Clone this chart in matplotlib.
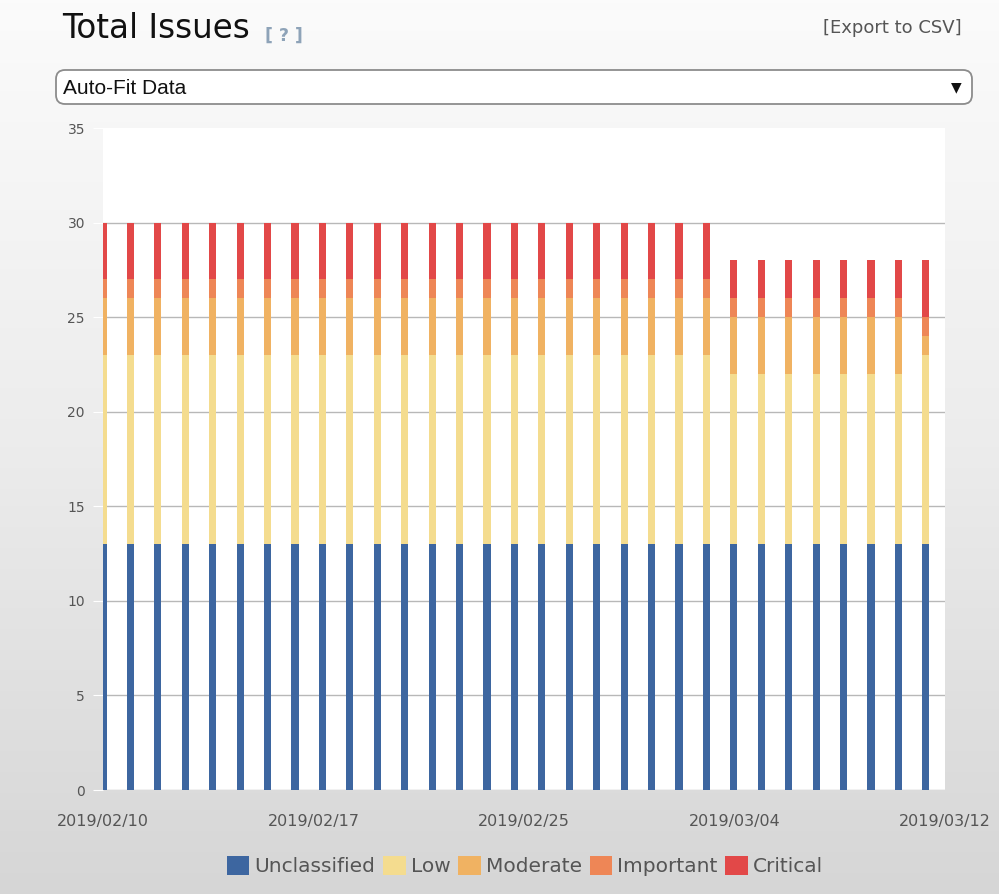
import numpy as np
import pandas as pd
import matplotlib
matplotlib.use('Agg')
import matplotlib.pyplot as plt
from matplotlib.patches import FancyBboxPatch

# 数据：每天各等级的问题数
dates = pd.date_range('2019-02-10', '2019-03-12', freq='D')
unclassified = [13] * 31
low = [10] * 23 + [9] * 7 + [10]
moderate = [3] * 23 + [3] * 7 + [1]
important = [1] * 31
critical = [3] * 23 + [2] * 7 + [3]

series_names = ['Unclassified', 'Low', 'Moderate', 'Important', 'Critical']
series_colors = ['#3d66a0', '#f4dc8f', '#f0b262', '#ee8656', '#e24848']
x_tick_labels = ['2019/02/10', '2019/02/17', '2019/02/25', '2019/03/04', '2019/03/12']
y_ticks = [0, 5, 10, 15, 20, 25, 30, 35]

W, H = 999, 894
fig = plt.figure(figsize=(W / 100, H / 100), dpi=100)

# 背景渐变 + 页面装饰（像素坐标）
bg = fig.add_axes([0, 0, 1, 1], zorder=-10)
grad = np.linspace(0, 1, 256).reshape(-1, 1)
bg.imshow(grad, cmap=matplotlib.colors.LinearSegmentedColormap.from_list('g', ['#fbfbfb', '#ececec', '#d6d6d6']),
          extent=[0, W, H, 0], aspect='auto')
bg.set_xlim(0, W)
bg.set_ylim(H, 0)
bg.axis('off')

bg.text(62, 38, 'Total Issues', fontsize=23.5, color='#111111', va='baseline', ha='left')
bg.text(265, 41, '[ ? ]', fontsize=12.5, color='#8ea3b8', fontweight='bold', va='baseline', ha='left')
bg.text(962, 28, '[Export to CSV]', fontsize=13, color='#555555', va='center', ha='right')

box = FancyBboxPatch((56, 70), 916, 34, boxstyle='round,pad=0,rounding_size=9',
                     facecolor='white', edgecolor='#8c8c8c', linewidth=1.3)
bg.add_patch(box)
bg.text(63, 88, 'Auto-Fit Data', fontsize=15, family='Liberation Sans', color='#111111', va='center', ha='left')
bg.text(956, 87, '▼', fontsize=10, color='#111111', va='center', ha='center')

# 主图
ax = fig.add_axes([103 / W, 1 - 790 / H, 842 / W, 662 / H])
ax.set_facecolor('white')
x = np.arange(len(dates))
values = [unclassified, low, moderate, important, critical]
bottom = np.zeros(len(dates))
for name, vals, c in zip(series_names, values, series_colors):
    ax.bar(x, vals, bottom=bottom, width=0.26, color=c, label=name)
    bottom += np.array(vals)

ax.set_xlim(0, 30.7)
ax.set_ylim(0, 35)
ax.set_yticks(y_ticks)
ax.set_xticks(np.linspace(0, 30.7, len(x_tick_labels)))
ax.set_xticklabels(x_tick_labels)
ax.set_axisbelow(True)
ax.yaxis.grid(True, color='#b8b8b8', linewidth=1)
ax.get_ygridlines()[-1].set_visible(False)
for s in ax.spines.values():
    s.set_visible(False)
ax.tick_params(axis='y', colors='white', length=7, pad=6, labelsize=10, labelcolor='#555555')
ax.tick_params(axis='x', length=0, pad=17, labelsize=11.5, labelcolor='#555555')

fig.legend(loc='center', bbox_to_anchor=(525 / W, 1 - 866 / H), ncol=5, frameon=False,
           fontsize=14.5, handlelength=1.1, handleheight=1.1, handletextpad=0.25,
           columnspacing=0.4, labelcolor='#555555')

plt.savefig('out.png', dpi=100)
